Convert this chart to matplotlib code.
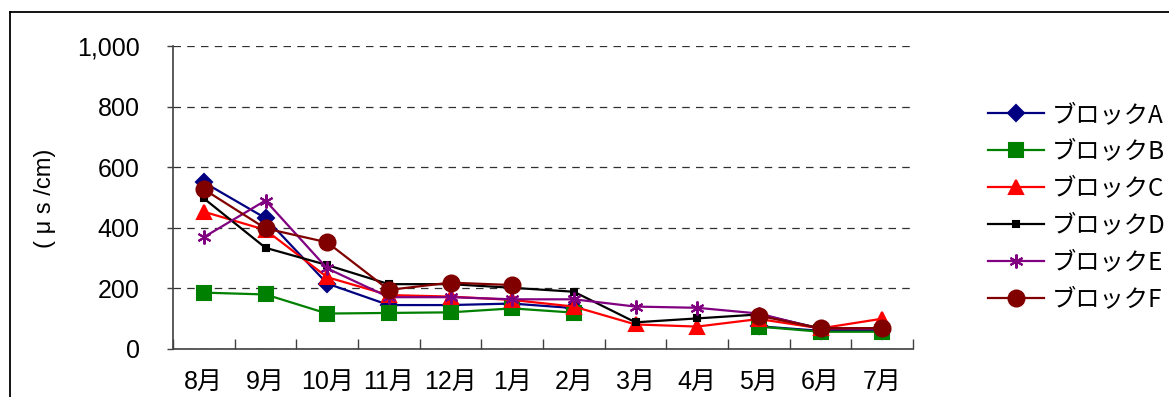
import numpy as np
import matplotlib
matplotlib.use("Agg")
from matplotlib import pyplot as plt
from matplotlib.lines import Line2D

months = ['8月', '9月', '10月', '11月', '12月', '1月', '2月', '3月', '4月', '5月', '6月', '7月']
nan = np.nan

# conductivity per block (μs/cm), missing months left as NaN
block_a = [550, 432, 216, 145, 145, 150, 135, nan, nan, 75, 60, 60]
block_b = [186, 180, 117, 119, 121, 134, 120, nan, nan, 74, 57, 57]
block_c = [453, 393, 237, 178, 173, 162, 140, 81, 74, 99, 68, 100]
block_d = [497, 334, 277, 214, 214, 202, 189, 88, 101, 114, 68, 68]
block_e = [369, 490, 266, 171, 171, 164, 164, 140, 136, 117, 66, 66]
block_f = [527, 398, 352, 195, 219, 211, nan, nan, nan, 110, 68, 69]

labels = ['ブロックA', 'ブロックB', 'ブロックC', 'ブロックD', 'ブロックE', 'ブロックF']
series = [block_a, block_b, block_c, block_d, block_e, block_f]
colors = ['#000080', '#008000', '#ff0000', '#000000', '#800080', '#800000']
markers = ['D', 's', '^', 's', (6, 2, 0), 'o']
msizes = [8, 10, 10, 5, 10, 11.5]

num_font = ['Liberation Sans Narrow', 'Liberation Sans', 'Noto Sans CJK JP']

fig = plt.figure(figsize=(11.69, 3.97), dpi=100)
ax = fig.add_axes([173 / 1169, 1 - 349 / 397, 740 / 1169, 303 / 397])

x = np.arange(len(months))
handles = []
for vals, lab, c, m, ms in zip(series, labels, colors, markers, msizes):
    ln, = ax.plot(x, vals, color=c, lw=1.6, marker=m, markersize=ms,
                  markerfacecolor=c, markeredgecolor=c, markeredgewidth=1.5,
                  label=lab)
    handles.append(ln)

ax.set_xlim(-0.5, 11.5)
ax.set_ylim(0, 1000)

# boundaries between months get the tick marks, month names sit in between
ax.set_xticks(np.arange(-0.5, 12, 1))
ax.set_xticklabels([])
ax.set_xticks(x, minor=True)
ax.set_xticklabels(months, minor=True, family=num_font, fontsize=18)
ax.tick_params(axis='x', which='major', direction='in', length=7, width=1, color='#404040')
ax.tick_params(axis='x', which='minor', length=0, pad=15)

ax.set_yticks(np.arange(0, 1001, 200))
ax.set_yticklabels(['0', '200', '400', '600', '800', '1,000'], family=num_font, fontsize=18)
ax.tick_params(axis='y', direction='out', length=4, width=1, color='#404040', pad=20)

ax.yaxis.grid(True, linestyle=(0, (6, 5)), color='#303030', lw=0.9)
ax.set_axisbelow(True)
for side in ['top', 'right']:
    ax.spines[side].set_visible(False)
for side in ['left', 'bottom']:
    ax.spines[side].set_color('#404040')
    ax.spines[side].set_linewidth(1.2)

fig.text(45 / 1169, 1 - 198 / 397, '( μ s /cm)', rotation=90, ha='center', va='center',
         family=num_font, fontsize=17)

leg = fig.legend(handles=handles, loc='upper left', bbox_to_anchor=(978 / 1169, 1 - 92 / 397),
                 frameon=False, prop={'family': ['Noto Sans CJK JP', 'DejaVu Sans'], 'size': 17.5},
                 handlelength=2.3, handletextpad=0.35, labelspacing=0.45, borderaxespad=0)

# outer frame, only its left and top edges fall inside the image
fig.add_artist(Line2D([9.5 / 1169, 9.5 / 1169], [0, 1 - 12 / 397], color='black', lw=1.3,
                      transform=fig.transFigure))
fig.add_artist(Line2D([9.5 / 1169, 1], [1 - 12 / 397, 1 - 12 / 397], color='black', lw=1.3,
                      transform=fig.transFigure))

fig.savefig('out.png', dpi=100)
